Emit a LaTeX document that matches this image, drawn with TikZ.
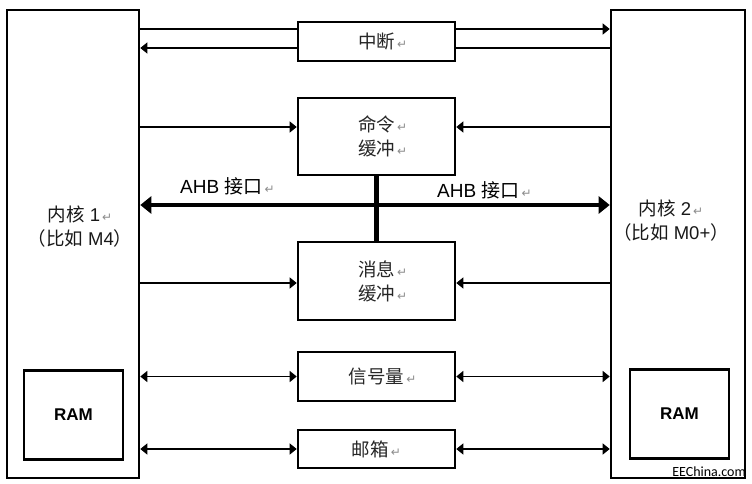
\documentclass[tikz,border=0pt]{standalone}
\usepackage{fontspec}
\setmainfont{Liberation Sans}
\newfontfamily\cjk{Noto Sans CJK SC}
\newfontfamily\symf{DejaVu Sans}
\newfontfamily\wmfont{Carlito}
\usetikzlibrary{arrows.meta}
\newcommand\retmark{{\symf\fontsize{12}{12}\selectfont\color{black!45}\,↵}}
\newcommand\lretmark{\hphantom{\retmark}}
\begin{document}
\begin{tikzpicture}[x=1pt,y=-1pt,
  >={Triangle[length=7pt,width=11pt]},
  core/.style={draw, line width=2.6pt, inner sep=0pt},
  mid/.style={draw, line width=2.6pt, inner sep=0pt, minimum width=157pt,
    font=\cjk\fontsize{18.5}{24}\selectfont, align=center, text=black!85},
  ram/.style={draw, line width=2.4pt, inner sep=0pt, minimum width=99pt, minimum height=89pt,
    font=\bfseries\fontsize{17}{17}\selectfont},
  corelabel/.style={align=center, inner sep=0pt, font=\fontsize{18.5}{24}\selectfont, text=black!90},
  ahb/.style={anchor=base west, inner sep=0pt, font=\fontsize{19}{19}\selectfont},
  link/.style={line width=1.3pt},
  bus/.style={line width=4.5pt},
  bustip/.style={{Triangle[length=11pt,width=17pt]}-{Triangle[length=11pt,width=17pt]}}
]
\useasboundingbox (0,0) rectangle (752,484);
\fill[white] (0,0) rectangle (752,484);

% cores
\node[core, minimum width=132pt, minimum height=468pt] (core1) at (73,244) {};
\node[core, minimum width=134pt, minimum height=468pt] (core2) at (678,244) {};
\node[ram] (ram1) at (73.5,415) {RAM};
\node[ram] (ram2) at (679.5,414) {RAM};
\node[corelabel] (lab1) at (80,227) {{\cjk 内核} 1\retmark\\{\cjk （比如} M4{\cjk ）}};
\node[corelabel] (lab2) at (671,221) {{\cjk 内核} 2\retmark\\{\cjk （比如} M0+{\cjk ）}};

% middle blocks
\node[mid, minimum height=39pt] (intr) at (376.5,41.5) {\lretmark 中断\retmark};
\node[mid, minimum height=77pt] (cmd) at (376.5,136.5) {\lretmark 命令\retmark\\\lretmark 缓冲\retmark};
\node[mid, minimum height=78pt] (msg) at (376.5,281) {\lretmark 消息\retmark\\\lretmark 缓冲\retmark};
\node[mid, minimum height=49pt] (sem) at (376.5,376.5) {\lretmark 信号量\retmark};
\node[mid, minimum height=38pt] (mbx) at (376.5,449) {邮箱\retmark};

% interrupt lines
\draw[link] (core1.east |- 0,29) -- (intr.west |- 0,29);
\draw[link,->] (intr.east |- 0,29) -- (core2.west |- 0,29);
\draw[link,<-] (core1.east |- 0,48) -- (intr.west |- 0,48);
\draw[link] (intr.east |- 0,48) -- (core2.west |- 0,48);

% command buffer
\draw[link,->] (core1.east |- 0,127) -- (cmd.west |- 0,127);
\draw[link,->] (core2.west |- 0,127) -- (cmd.east |- 0,127);

% message buffer
\draw[link,->] (core1.east |- 0,283) -- (msg.west |- 0,283);
\draw[link,->] (core2.west |- 0,283) -- (msg.east |- 0,283);

% semaphore and mailbox
\draw[link,<->] (core1.east |- sem) -- (sem.west);
\draw[link,<->] (sem.east) -- (core2.west |- sem);
\draw[link,<->] (core1.east |- mbx) -- (mbx.west);
\draw[link,<->] (mbx.east) -- (core2.west |- mbx);

% AHB bus
\draw[bus,bustip] (core1.east |- 0,205) -- (core2.west |- 0,205);
\draw[bus] (cmd.south) -- (msg.north);
\node[ahb] (ahb1) at (180,193) {AHB {\cjk 接口}\retmark};
\node[ahb] (ahb2) at (437,197) {AHB {\cjk 接口}\retmark};

% watermark
\node[anchor=base east, inner sep=0pt, font=\wmfont\fontsize{14}{14}\selectfont] (wm) at (746,476) {EEChina.com};
\end{tikzpicture}
\end{document}
